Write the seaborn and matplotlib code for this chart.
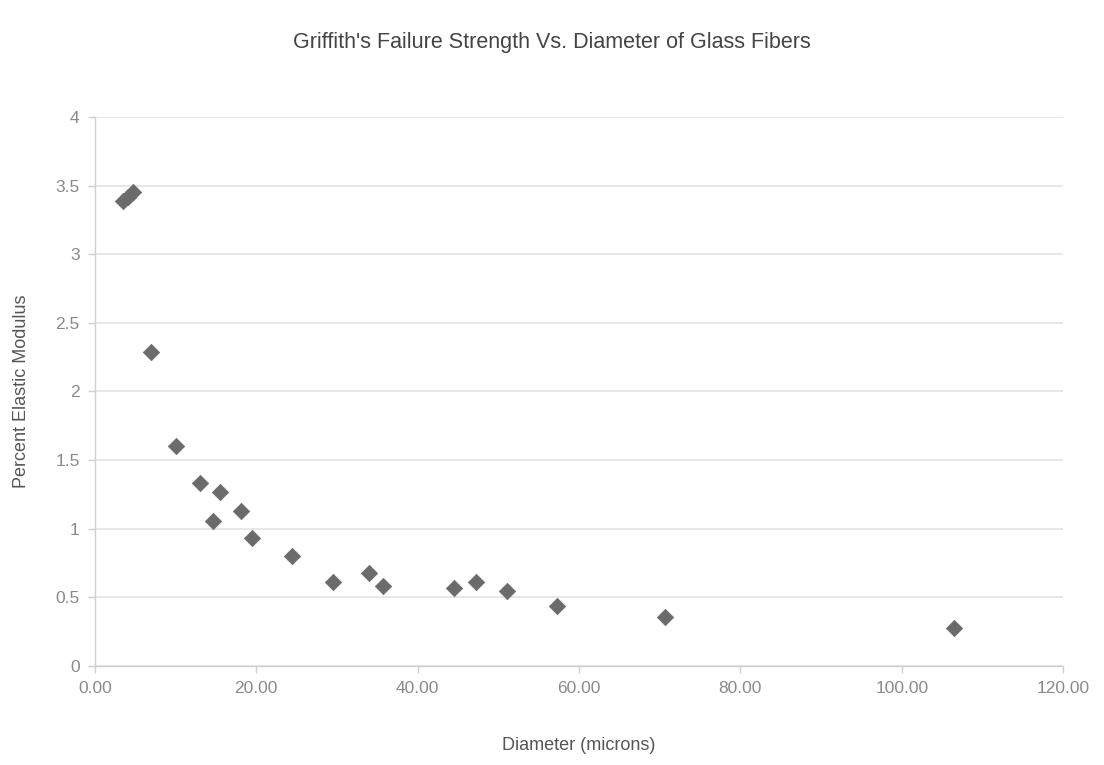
import matplotlib
matplotlib.use("Agg")
import matplotlib.pyplot as plt
import pandas as pd
import seaborn as sns
from matplotlib.ticker import FormatStrFormatter, FuncFormatter

sns.set_theme(style="white")
plt.rcParams['font.family'] = ['Liberation Sans', 'DejaVu Sans']

# diameter in microns and failure strength (% of elastic modulus)
diameter = [3.5, 4.1, 4.7, 6.9, 10.0, 13.0, 15.5, 14.6, 18.1, 19.5, 24.4,
            29.5, 34.0, 35.7, 44.5, 47.2, 51.1, 57.3, 70.7, 106.5]
strength = [3.39, 3.42, 3.45, 2.29, 1.60, 1.33, 1.27, 1.06, 1.13, 0.93, 0.80,
            0.61, 0.68, 0.58, 0.57, 0.61, 0.55, 0.44, 0.36, 0.28]
x_ticks = [0, 20, 40, 60, 80, 100, 120]
y_ticks = [0, 0.5, 1, 1.5, 2, 2.5, 3, 3.5, 4]

df = pd.DataFrame({'diameter': diameter, 'strength': strength})

fig = plt.figure(figsize=(11.04, 7.65), dpi=100)
ax = fig.add_axes([0.086, 0.1294, 0.877, 0.7177])

sns.scatterplot(data=df, x='diameter', y='strength', marker='D', s=70,
                color='#6b6b6b', edgecolor='#6b6b6b', linewidth=0.5, ax=ax, zorder=3)

ax.set_xlim(0, 120)
ax.set_ylim(0, 4)
ax.set_xticks(x_ticks)
ax.set_yticks(y_ticks)
ax.xaxis.set_major_formatter(FormatStrFormatter('%.2f'))
ax.yaxis.set_major_formatter(FuncFormatter(lambda v, p: f'{v:g}'))
ax.yaxis.grid(True, color='#e3e3e3', linewidth=1.2)
ax.xaxis.grid(False)
for side in ['top', 'right']:
    ax.spines[side].set_visible(False)
for side in ['left', 'bottom']:
    ax.spines[side].set_color('#d0d0d0')
    ax.spines[side].set_linewidth(1.0)
ax.tick_params(axis='both', colors='#d0d0d0', labelcolor='#8a8a8a', labelsize=12.5,
               direction='out', length=5, width=1, bottom=True, left=True, pad=6)

ax.set_xlabel('Diameter (microns)', fontsize=13, color='#555555', labelpad=29)
ax.set_ylabel('Percent Elastic Modulus', fontsize=13, color='#555555', labelpad=18)
fig.text(0.5, 0.945, "Griffith's Failure Strength Vs. Diameter of Glass Fibers",
         ha='center', va='center', fontsize=15.5, color='#444444')

plt.savefig('out.png', dpi=100)
